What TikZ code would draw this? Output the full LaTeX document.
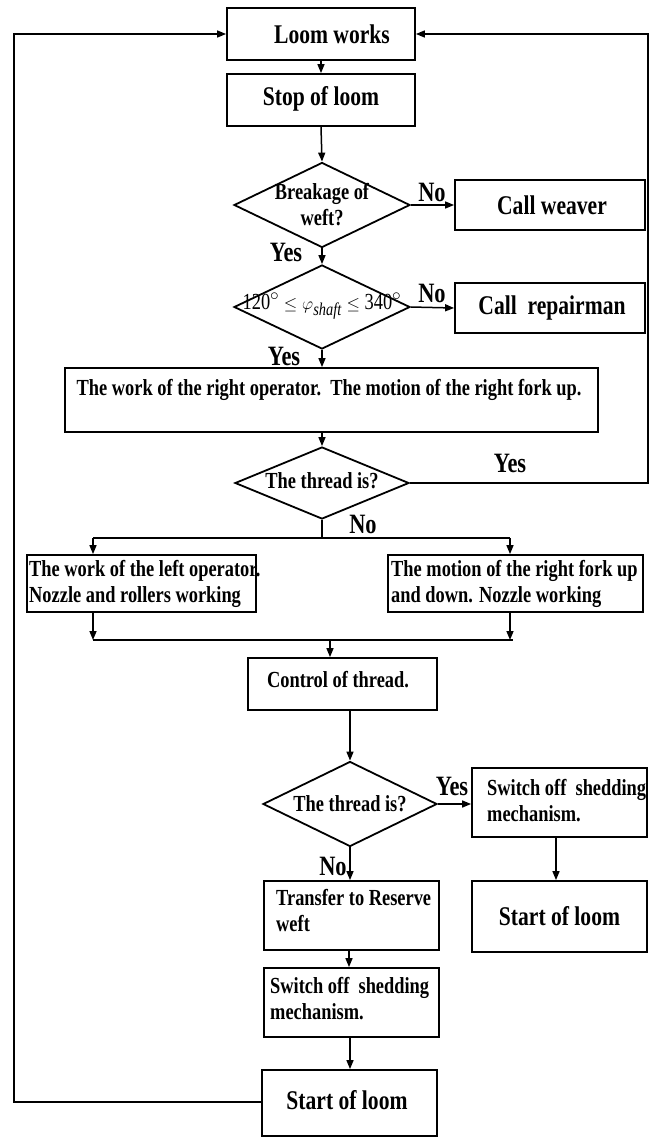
\documentclass[tikz,border=0pt]{standalone}
\usepackage{fontspec}
\setmainfont{Liberation Serif}[FakeStretch=0.8]
\usetikzlibrary{shapes.geometric,arrows.meta}
\begin{document}
\begin{tikzpicture}[x=1pt,y=-1pt,
  box/.style={draw, line width=1.8pt, inner sep=0pt},
  dia/.style={draw, diamond, line width=1.8pt, inner sep=0pt},
  txt/.style={font=\bfseries\fontsize{23}{26}\selectfont, align=left, inner sep=0pt},
  big/.style={font=\bfseries\fontsize{27}{30}\selectfont, inner sep=0pt},
  lab/.style={font=\bfseries\fontsize{28}{30}\selectfont, inner sep=0pt},
  arr/.style={-{Triangle[length=9pt,width=7pt]}, line width=1.5pt},
  ln/.style={line width=1.5pt}]
\useasboundingbox (0,0) rectangle (649,1138);
% boxes
\node[box, minimum width=188pt, minimum height=52pt] (lw) at (321,34) {};
\node[big] at (332,34) {Loom works};
\node[box, minimum width=188pt, minimum height=52pt] (sl) at (321,100) {};
\node[big] at (321,99) {Stop of loom};
\node[dia, minimum width=176pt, minimum height=85pt] (d1) at (322,205) {};
\node[txt, align=center] at (322,205) {Breakage of\\weft?};
\node[box, minimum width=190pt, minimum height=50pt] (cw) at (550,205) {};
\node[big] at (552,205) {Call weaver};
\node[dia, minimum width=176pt, minimum height=84pt] (d2) at (322,307) {};
\node[inner sep=0pt] at (322,306) {\fontsize{23}{26}\selectfont 120$^{\circ}$ {\fontsize{18}{20}\selectfont$\le\varphi_{\textit{shaft}}\le$} 340$^{\circ}$};
\node[box, minimum width=190pt, minimum height=50pt] (cr) at (550,308) {};
\node[big] at (552,308) {Call\ \ repairman};
\node[box, minimum width=533pt, minimum height=64pt] (op) at (331.5,400) {};
\node[txt] at (329,390) {The work of the right operator.\ \ The motion of the right fork up.};
\node[dia, minimum width=174pt, minimum height=72pt] (d3) at (322,483) {};
\node[txt] at (322,481) {The thread is?};
\node[box, minimum width=229pt, minimum height=57pt] (lb) at (141.5,583.5) {};
\node[txt, anchor=west] at (29,583.5) {The work of the left operator.\\Nozzle and rollers working};
\node[box, minimum width=255pt, minimum height=57pt] (rb) at (515.5,583.5) {};
\node[txt, anchor=west] at (391,583.5) {The motion of the right fork up\\and down. Nozzle working};
\node[box, minimum width=189pt, minimum height=52pt] (ct) at (342.5,684) {};
\node[txt] at (338,680) {Control of thread.};
\node[dia, minimum width=174pt, minimum height=85pt] (d4) at (350,804) {};
\node[txt] at (350,804) {The thread is?};
\node[box, minimum width=175pt, minimum height=69pt] (so1) at (559.5,802.5) {};
\node[txt, anchor=west] at (487,801) {Switch off\ \ shedding\\mechanism.};
\node[box, minimum width=175pt, minimum height=71pt] (sr) at (559.5,916.5) {};
\node[big] at (559.5,916) {Start of loom};
\node[box, minimum width=175pt, minimum height=69pt] (tr) at (351.5,915.5) {};
\node[txt, anchor=west] at (276,911) {Transfer to Reserve\\weft};
\node[box, minimum width=175pt, minimum height=69pt] (so2) at (351.5,1002.5) {};
\node[txt, anchor=west] at (270,999) {Switch off\ \ shedding\\mechanism.};
\node[box, minimum width=175pt, minimum height=66pt] (st) at (349.5,1103) {};
\node[big] at (347,1100) {Start of loom};
% labels
\node[lab] at (432,192) {No};
\node[lab] at (286,252) {Yes};
\node[lab] at (432,293) {No};
\node[lab] at (284,356) {Yes};
\node[lab] at (510,463) {Yes};
\node[lab] at (363,524) {No};
\node[lab] at (452,786) {Yes};
\node[lab] at (333,866) {No};
% connectors
\coordinate (sp) at (322,538);
\coordinate (jn) at (330,640);
\coordinate (rc) at (648,483);
\draw[arr] (lw.south) -- (sl.north);
\draw[arr] (sl.south) -- (d1.north);
\draw[arr] (d1.east) -- (cw.west);
\draw[arr] (d1.south) -- (d2.north);
\draw[arr] (d2.east) -- (cr.west);
\draw[arr] (d2.south) -- (op.north -| d2.south);
\draw[arr] (op.south -| d3.north) -- (d3.north);
\draw[ln] (d3.south) -- (sp);
\draw[ln] (93,538) -- (510,538);
\draw[arr] (93,538) -- (lb.north -| 93,0);
\draw[arr] (510,538) -- (rb.north -| 510,0);
\draw[arr] (lb.south -| 93,0) -- (93,640);
\draw[arr] (rb.south -| 510,0) -- (510,640);
\draw[ln] (93,640) -- (513,640);
\draw[arr] (jn) -- (ct.north -| jn);
\draw[arr] (ct.south -| d4.north) -- (d4.north);
\draw[arr] (d4.east) -- (so1.west |- d4.east);
\draw[arr] (so1.south -| 556,0) -- (sr.north -| 556,0);
\draw[arr] (d4.south) -- (tr.north -| d4.south);
\draw[arr] (tr.south -| 349,0) -- (so2.north -| 349,0);
\draw[arr] (so2.south -| 350,0) -- (st.north -| 350,0);
\draw[arr] (st.west |- 0,1102) -- (14,1102) -- (14,34) -- (lw.west);
\draw[arr] (d3.east) -- (rc) -- (648,34) -- (lw.east);
\end{tikzpicture}
\end{document}
